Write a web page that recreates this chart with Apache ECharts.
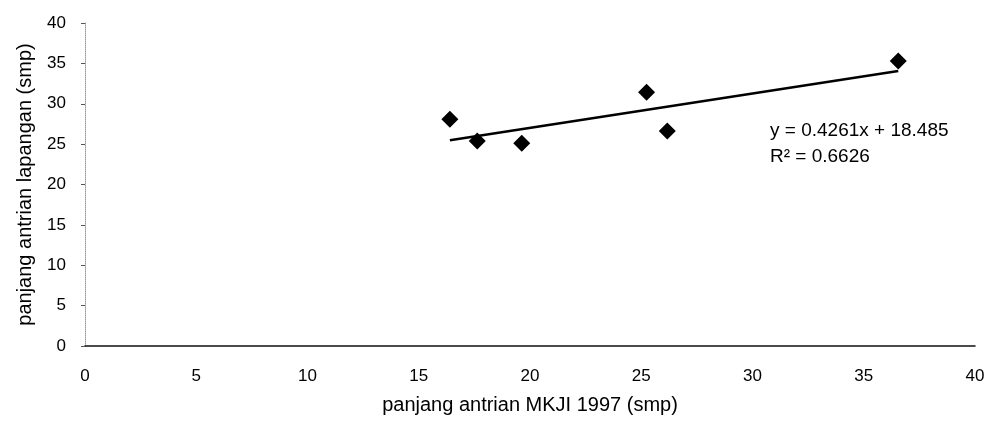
<!DOCTYPE html>
<html><head><meta charset="utf-8">
<script src="https://cdn.jsdelivr.net/npm/echarts@6/dist/echarts.min.js"></script>
<style>html,body{margin:0;padding:0;background:#fff}#c{width:989px;height:424px}</style>
</head><body><div id="c"></div>
<script>
var xValues = [16.4, 17.63, 19.63, 25.24, 26.17, 36.55];
var yValues = [28.07, 25.39, 25.10, 31.42, 26.63, 35.29];
var slope = 0.4261, intercept = 18.485;
var eqLines = ['y = 0.4261x + 18.485', 'R\u00B2 = 0.6626'];
var xTitle = 'panjang antrian MKJI 1997 (smp)';
var yTitle = 'panjang antrian lapangan (smp)';

var pts = xValues.map(function(x,i){return [x, yValues[i]];});
var xmin = Math.min.apply(null, xValues), xmax = Math.max.apply(null, xValues);
var trend = [[xmin, slope*xmin+intercept],[xmax, slope*xmax+intercept]];
var font = 'Liberation Sans, Arial, sans-serif';
var chart = echarts.init(document.getElementById('c'));
chart.setOption({
  animation:false,
  grid:{left:85,right:14,top:23,bottom:78},
  xAxis:{type:'value',min:0,max:40,interval:5,
    axisLine:{lineStyle:{color:'#111',width:1.5}},
    axisTick:{show:false},splitLine:{show:false},
    axisLabel:{color:'#000',fontSize:17,fontFamily:font,margin:22},
    name:xTitle,nameLocation:'middle',nameGap:49,
    nameTextStyle:{color:'#000',fontSize:20,fontFamily:font}},
  yAxis:{type:'value',min:0,max:40,interval:5,
    axisLine:{show:true,lineStyle:{color:'#999',width:1,type:'dotted'}},
    axisTick:{show:true,length:4,lineStyle:{color:'#555'}},splitLine:{show:false},
    axisLabel:{color:'#000',fontSize:17,fontFamily:font,margin:19},
    name:yTitle,nameLocation:'middle',nameGap:50,
    nameTextStyle:{color:'#000',fontSize:20,fontFamily:font}},
  series:[
    {type:'line',data:trend,symbol:'none',lineStyle:{color:'#000',width:2.5},z:2},
    {type:'scatter',data:pts,symbol:'diamond',symbolSize:17,itemStyle:{color:'#000',opacity:1},z:3}
  ],
  graphic:[{type:'text',left:770,top:118,style:{
    text:eqLines.join('\n'),fill:'#000',font:'19px '+font,lineHeight:26}}]
});
</script></body></html>
